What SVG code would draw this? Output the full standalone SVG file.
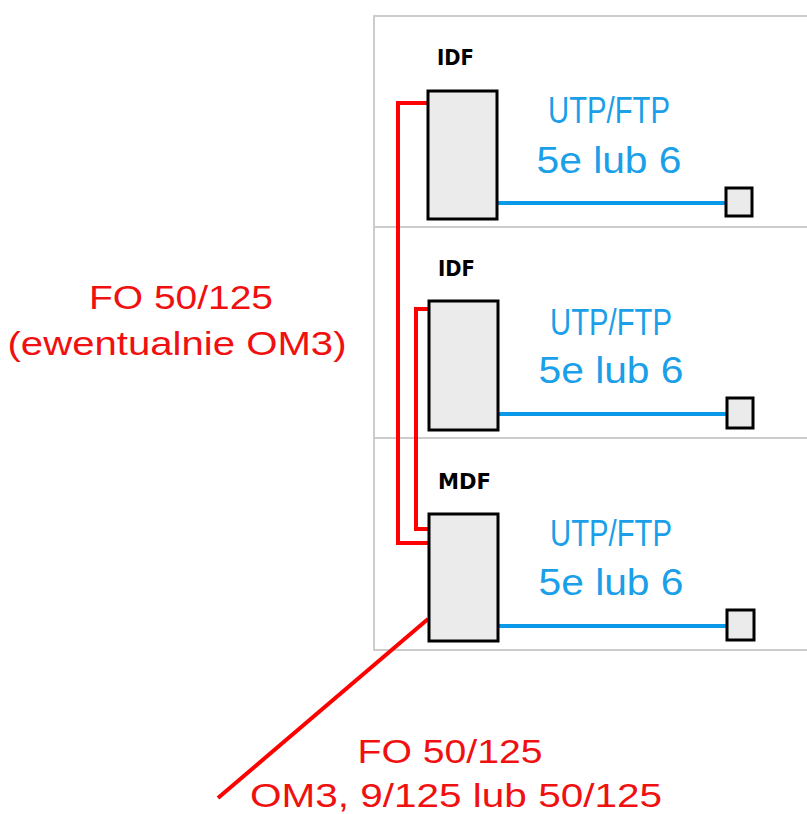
<svg xmlns="http://www.w3.org/2000/svg" width="807" height="814" viewBox="0 0 807 814">
<style>
.frame{fill:none;stroke:#cccccc;stroke-width:2}
.box{fill:#ebebeb;stroke:#000;stroke-width:3}
.lbl{font-family:"DejaVu Sans",sans-serif;font-weight:bold;font-size:22px;fill:#000}
.blue{font-family:"Liberation Sans",Arial,sans-serif;font-size:37px;fill:#1a9fe8;text-anchor:middle}
.red{font-family:"Liberation Sans",Arial,sans-serif;font-size:33px;fill:#f01010;text-anchor:middle}
.fo{fill:none;stroke:#f00;stroke-width:4}
.utp{fill:none;stroke:#0a98e8;stroke-width:4}
</style>
<rect width="807" height="814" fill="#fff"/>
<g id="frame">
<path class="frame" d="M807,16 H374 V650 H807 M374,227 H807 M374,438 H807"/>
</g>
<g id="connectors">
<path class="fo" d="M428,103 H398 V543 H428"/>
<path class="fo" d="M428,309 H416 V529 H428"/>
<path class="fo" d="M428,619 L218,798"/>
<path class="utp" d="M498,203 H727"/>
<path class="utp" d="M498,414 H727"/>
<path class="utp" d="M498,626 H727"/>
</g>
<g id="idf1">
<text class="lbl" x="437" y="65" textLength="37" lengthAdjust="spacingAndGlyphs">IDF</text>
<rect class="box" x="428" y="91" width="69" height="128"/>
<rect class="box" x="726" y="188" width="26" height="28"/>
<text class="blue" x="609" y="123" textLength="122" lengthAdjust="spacingAndGlyphs">UTP/FTP</text>
<text class="blue" x="609" y="173" textLength="145" lengthAdjust="spacingAndGlyphs">5e lub 6</text>
</g>
<g id="idf2">
<text class="lbl" x="438" y="276" textLength="37" lengthAdjust="spacingAndGlyphs">IDF</text>
<rect class="box" x="429" y="301" width="69" height="129"/>
<rect class="box" x="727" y="398" width="26" height="30"/>
<text class="blue" x="611" y="335" textLength="122" lengthAdjust="spacingAndGlyphs">UTP/FTP</text>
<text class="blue" x="611" y="383" textLength="145" lengthAdjust="spacingAndGlyphs">5e lub 6</text>
</g>
<g id="mdf">
<text class="lbl" x="438" y="489" textLength="53" lengthAdjust="spacingAndGlyphs">MDF</text>
<rect class="box" x="429" y="514" width="69" height="127"/>
<rect class="box" x="727" y="610" width="27" height="30"/>
<text class="blue" x="611" y="546" textLength="122" lengthAdjust="spacingAndGlyphs">UTP/FTP</text>
<text class="blue" x="611" y="595" textLength="145" lengthAdjust="spacingAndGlyphs">5e lub 6</text>
</g>
<g id="labels">
<text class="red" x="181" y="309" textLength="184" lengthAdjust="spacingAndGlyphs">FO 50/125</text>
<text class="red" x="177" y="355" textLength="339" lengthAdjust="spacingAndGlyphs">(ewentualnie OM3)</text>
<text class="red" x="450" y="763" textLength="185" lengthAdjust="spacingAndGlyphs">FO 50/125</text>
<text class="red" x="456" y="807" textLength="412" lengthAdjust="spacingAndGlyphs">OM3, 9/125 lub 50/125</text>
</g>
</svg>
